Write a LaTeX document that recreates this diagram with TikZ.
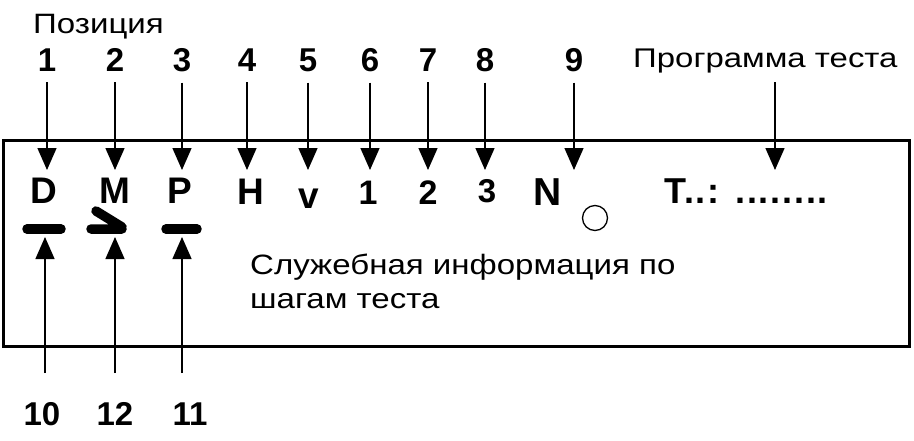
\documentclass[tikz,border=0pt]{standalone}
\usepackage{fontspec}
\setmainfont{Liberation Sans}
\newfontfamily\widefont[FakeStretch=1.18]{Liberation Sans}
\newfontfamily\wideprog[FakeStretch=1.22]{Liberation Sans}
\usetikzlibrary{arrows.meta}
\begin{document}
\begin{tikzpicture}[x=1pt,y=-1pt,
  num/.style={font=\bfseries\fontsize{33}{33}\selectfont, inner sep=0pt, anchor=base},
  sym/.style={font=\bfseries\fontsize{37}{37}\selectfont, inner sep=0pt, anchor=base},
  dig/.style={font=\bfseries\fontsize{34}{34}\selectfont, inner sep=0pt, anchor=base},
  lbl/.style={font=\widefont\fontsize{28}{28}\selectfont, inner sep=0pt, anchor=base west},
  arr/.style={line width=1.4pt, -{Triangle[width=19pt,length=22pt]}},
  bar/.style={line width=9.5pt, line cap=round}]
\useasboundingbox (0,0) rectangle (914,440);
\fill[white] (0,0) rectangle (914,440);
% frame
\node[draw, line width=3.5pt, minimum width=906pt, minimum height=206pt, inner sep=0pt] (frame) at (456.5,243.5) {};
% labels
\node[lbl] (pos) at (33,33) {Позиция};
\node[lbl, font=\wideprog\fontsize{27}{27}\selectfont] (prog) at (633,67) {Программа теста};
% top numbers
\foreach \i/\x in {1/47,2/115,3/182,4/247,5/308,6/370,7/428,8/485,9/574}
  \node[num] (n\i) at (\x,71) {\i};
\coordinate (tip) at (0,170);
\coordinate (ptop) at (775,82);
% symbols
\node[sym] (l1) at (44,203) {D};
\node[sym] (l2) at (115,203) {M};
\node[sym] (l3) at (180,203) {P};
\node[sym] (l4) at (251,204) {H};
\node[sym] (l5) at (309,208) {v};
\node[dig] (l6) at (368,204) {1};
\node[dig] (l7) at (428,204) {2};
\node[dig, font=\bfseries\fontsize{33}{33}\selectfont] (l8) at (487,202) {3};
\node[sym, font=\bfseries\fontsize{39}{39}\selectfont] (l9) at (548,205) {N};
\node[draw, circle, line width=1.3pt, minimum size=25pt, inner sep=0pt] (circ) at (595,218) {};
\node[sym, anchor=base west, font=\bfseries\fontsize{36}{36}\selectfont\addfontfeature{LetterSpace=5}] (tdots) at (664,203) {T..: ........};
% top arrows
\foreach \i in {1,...,9}
  \draw[arr] ([yshift=-11pt]n\i.south) -- (n\i |- tip);
\draw[arr] (ptop) -- (ptop |- tip);
% bars
\draw[bar] (27,229) -- (61,229);
\draw[bar] (91,229) -- (122,229) (96,211) -- (122,227);
\draw[bar] (166,229) -- (197,229);
% bottom labels
\node[num] (b10) at (42,425) {10};
\node[num] (b12) at (115,425) {12};
\node[num] (b11) at (190,425) {11};
\coordinate (btip) at (0,237);
\coordinate (bstart) at (0,373);
\draw[arr] ([xshift=3pt]b10 |- bstart) -- ([xshift=3pt]b10 |- btip);
\draw[arr] (b12 |- bstart) -- (b12 |- btip);
\draw[arr] ([xshift=-8pt]b11 |- bstart) -- ([xshift=-8pt]b11 |- btip);
% service info
\node[lbl] (info) at (250,274) {Служебная информация по};
\node[lbl] (info2) at (250,308) {шагам теста};
\end{tikzpicture}
\end{document}
